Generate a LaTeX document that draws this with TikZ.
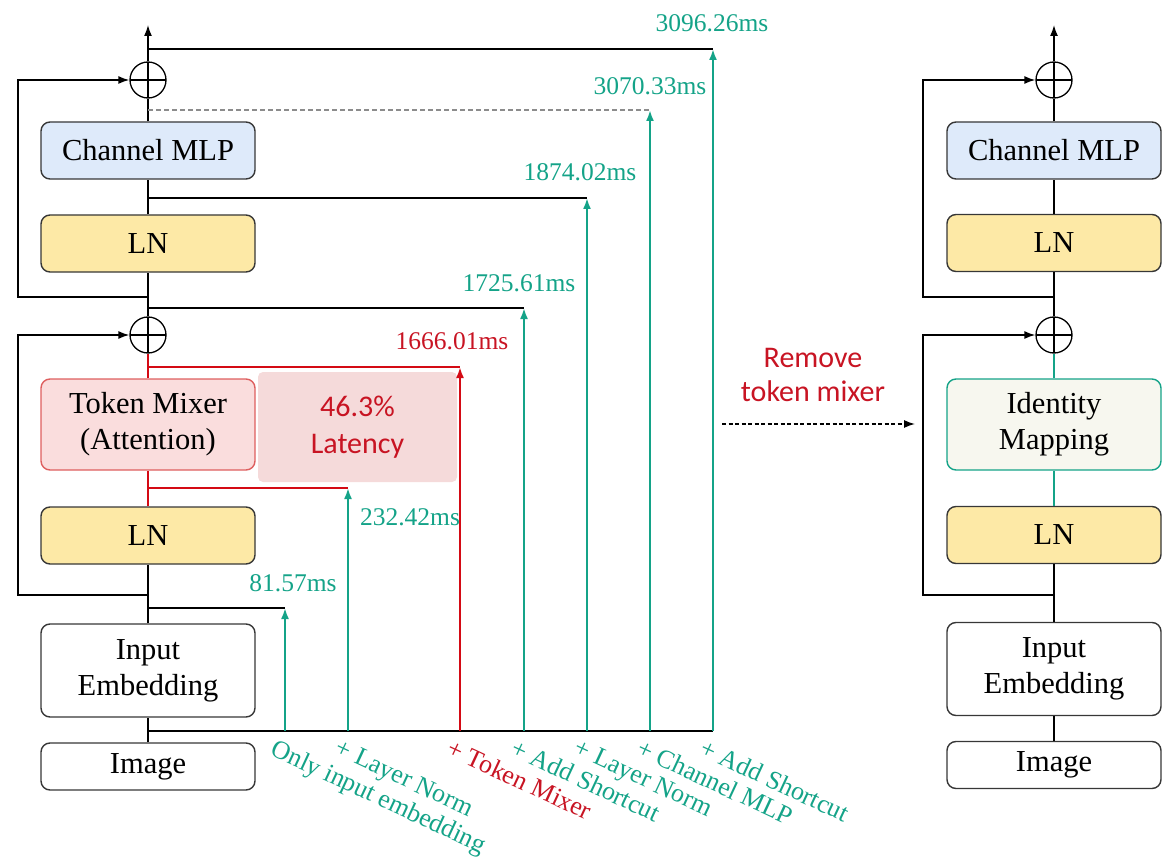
\documentclass[tikz,border=0pt]{standalone}
\usepackage{fontspec}
\setmainfont{Liberation Serif}
\newfontfamily\calibri{Carlito}
\usetikzlibrary{arrows.meta}

\definecolor{mgreen}{RGB}{20,163,136}
\definecolor{mred}{RGB}{212,10,20}
\definecolor{tred}{RGB}{200,20,35}
\definecolor{boxline}{RGB}{55,55,55}
\definecolor{mlpfill}{RGB}{222,234,250}
\definecolor{lnfill}{RGB}{253,233,166}
\definecolor{tmfill}{RGB}{250,221,221}
\definecolor{tmline}{RGB}{222,95,95}
\definecolor{latfill}{RGB}{245,218,218}
\definecolor{idfill}{RGB}{247,247,239}
\definecolor{dashgray}{RGB}{140,140,140}

\tikzset{
  blk/.style={draw=boxline, line width=1.4pt, rounded corners=9pt,
    minimum width=214pt, align=center, inner sep=0pt,
    font=\fontsize{30.5}{36}\selectfont},
  sumnode/.style={circle, draw=black, line width=1.3pt, minimum size=36pt, inner sep=0pt,
    path picture={\draw[line width=1.3pt]
      (path picture bounding box.north) -- (path picture bounding box.south)
      (path picture bounding box.west) -- (path picture bounding box.east);}},
  conn/.style={draw=black, line width=1.5pt},
  redconn/.style={draw=mred, line width=1.5pt},
  tip/.style={-{Latex[length=11pt,width=8pt]}},
  meas/.style={draw=mgreen, line width=2pt, -{Latex[length=11pt,width=8pt]}},
  redmeas/.style={draw=mred, line width=2pt, -{Latex[length=11pt,width=8pt]}},
  val/.style={text=mgreen, inner sep=0pt, font=\fontsize{25.5}{28}\selectfont},
  step label/.style={text=mgreen, inner sep=0pt, anchor=north west, rotate=-25,
    font=\fontsize{26}{28}\selectfont},
}

\begin{document}
\begin{tikzpicture}[x=1pt,y=-1pt]
\useasboundingbox (0,0) rectangle (1163,864);

% ---------------- left block with latency taps ----------------
\node[sumnode] (s2) at (148,80) {};
\node[blk, fill=mlpfill, minimum height=57pt] (mlp) at (148,150.5) {Channel MLP};
\node[blk, fill=lnfill, minimum height=57pt] (ln2) at (148,243.5) {LN};
\node[sumnode] (s1) at (148,335) {};
\node[blk, fill=tmfill, draw=tmline, minimum height=91pt] (tm) at (148,424.5) {Token Mixer\\(Attention)};
\node[blk, fill=lnfill, minimum height=57pt] (ln1) at (148,535.5) {LN};
\node[blk, fill=white, minimum height=93pt] (emb) at (148,670.5) {Input\\Embedding};
\node[blk, fill=white, minimum height=47pt] (img) at (148,766.5) {Image};

\node[fill=latfill, rounded corners=5pt, minimum width=199pt, minimum height=110pt,
  align=center, text=tred, font=\calibri\fontsize{30}{37}\selectfont] (lat) at (357.5,427) {46.3\%\\Latency};

\coordinate (out) at (148,25);
\draw[conn, tip] (s2.north) -- (out);
\draw[conn] (mlp.north) -- (s2.south);
\draw[conn] (ln2.north) -- (mlp.south);
\draw[conn] (s1.north) -- (ln2.south);
\draw[redconn] (tm.north) -- (s1.south);
\draw[redconn] (ln1.north) -- (tm.south);
\draw[conn] (emb.north) -- (ln1.south);
\draw[conn] (img.north) -- (emb.south);

% residual shortcuts
\coordinate (r2a) at (148,297);
\coordinate (r2b) at (18,297);
\coordinate (r1a) at (148,595);
\coordinate (r1b) at (18,595);
\draw[conn, tip] (r2a) -- (r2b) |- (s2.west);
\draw[conn, tip] (r1a) -- (r1b) |- (s1.west);

% tap points on the main path
\coordinate (p7) at (148,49);
\coordinate (p6) at (148,110);
\coordinate (p5) at (148,198);
\coordinate (p4) at (148,308);
\coordinate (p3) at (148,367);
\coordinate (p2) at (148,488);
\coordinate (p1) at (148,608);
\coordinate (p0) at (148,731);

\coordinate (h7) at (713,49);
\coordinate (h6) at (650,110);
\coordinate (h5) at (587,198);
\coordinate (h4) at (524,308);
\coordinate (h3) at (460,367);
\coordinate (h2) at (348,488);
\coordinate (h1) at (285,608);

\coordinate (b7) at (713,731);
\coordinate (b6) at (650,731);
\coordinate (b5) at (587,731);
\coordinate (b4) at (524,731);
\coordinate (b3) at (460,731);
\coordinate (b2) at (348,731);
\coordinate (b1) at (285,731);

\draw[conn] (p7) -- (h7);
\draw[draw=dashgray, line width=1.5pt, dash pattern=on 5pt off 3pt] (p6) -- (h6);
\draw[conn] (p5) -- (h5);
\draw[conn] (p4) -- (h4);
\draw[redconn] (p3) -- (h3);
\draw[redconn] (p2) -- (h2);
\draw[conn] (p1) -- (h1);
\draw[conn] (p0) -- (b7);

\draw[meas] (b1) -- (h1);
\draw[meas] (b2) -- (h2);
\draw[redmeas] (b3) -- (h3);
\draw[meas] (b4) -- (h4);
\draw[meas] (b5) -- (h5);
\draw[meas] (b6) -- (h6);
\draw[meas] (b7) -- (h7);

% measured latencies
\node[val] (v7) at (712,23) {3096.26ms};
\node[val] (v6) at (650,86) {3070.33ms};
\node[val] (v5) at (580,172) {1874.02ms};
\node[val] (v4) at (519,283) {1725.61ms};
\node[val, text=tred] (v3) at (452,341) {1666.01ms};
\node[val] (v2) at (410,517) {232.42ms};
\node[val] (v1) at (293,583) {81.57ms};

% configuration names
\node[step label] (n1) at (277,738) {Only input embedding};
\node[step label] (n2) at (341,738) {+ Layer Norm};
\node[step label, text=tred] (n3) at (453,738) {+ Token Mixer};
\node[step label] (n4) at (517,738) {+ Add Shortcut};
\node[step label] (n5) at (580,738) {+ Layer Norm};
\node[step label] (n6) at (643,738) {+ Channel MLP};
\node[step label] (n7) at (706,738) {+ Add Shortcut};

% ---------------- transition ----------------
\node[text=tred, align=center, inner sep=0pt, font=\calibri\fontsize{30}{34}\selectfont] (rm) at (813,375) {Remove\\token mixer};
\coordinate (ta) at (722,424);
\coordinate (tb) at (915,424);
\draw[conn, line width=1.3pt, dash pattern=on 4pt off 2.5pt, tip] (ta) -- (tb);

% ---------------- right block ----------------
\node[sumnode] (q2) at (1054,80) {};
\node[blk, fill=mlpfill, minimum height=57pt] (qmlp) at (1054,150.5) {Channel MLP};
\node[blk, fill=lnfill, minimum height=57pt] (qln2) at (1054,243) {LN};
\node[sumnode] (q1) at (1054,335) {};
\node[blk, fill=idfill, draw=mgreen, minimum height=91pt] (qid) at (1054,424.5) {Identity\\Mapping};
\node[blk, fill=lnfill, minimum height=57pt] (qln1) at (1054,535) {LN};
\node[blk, fill=white, minimum height=93pt] (qemb) at (1054,669) {Input\\Embedding};
\node[blk, fill=white, minimum height=47pt] (qimg) at (1054,765) {Image};

\coordinate (qout) at (1054,25);
\draw[conn, tip] (q2.north) -- (qout);
\draw[conn] (qmlp.north) -- (q2.south);
\draw[conn] (qln2.north) -- (qmlp.south);
\draw[conn] (q1.north) -- (qln2.south);
\draw[draw=mgreen, line width=1.5pt] (qid.north) -- (q1.south);
\draw[draw=mgreen, line width=1.5pt] (qln1.north) -- (qid.south);
\draw[conn] (qemb.north) -- (qln1.south);
\draw[conn] (qimg.north) -- (qemb.south);

\coordinate (k2a) at (1054,297);
\coordinate (k2b) at (923,297);
\coordinate (k1a) at (1054,595);
\coordinate (k1b) at (923,595);
\draw[conn, tip] (k2a) -- (k2b) |- (q2.west);
\draw[conn, tip] (k1a) -- (k1b) |- (q1.west);
\end{tikzpicture}
\end{document}
